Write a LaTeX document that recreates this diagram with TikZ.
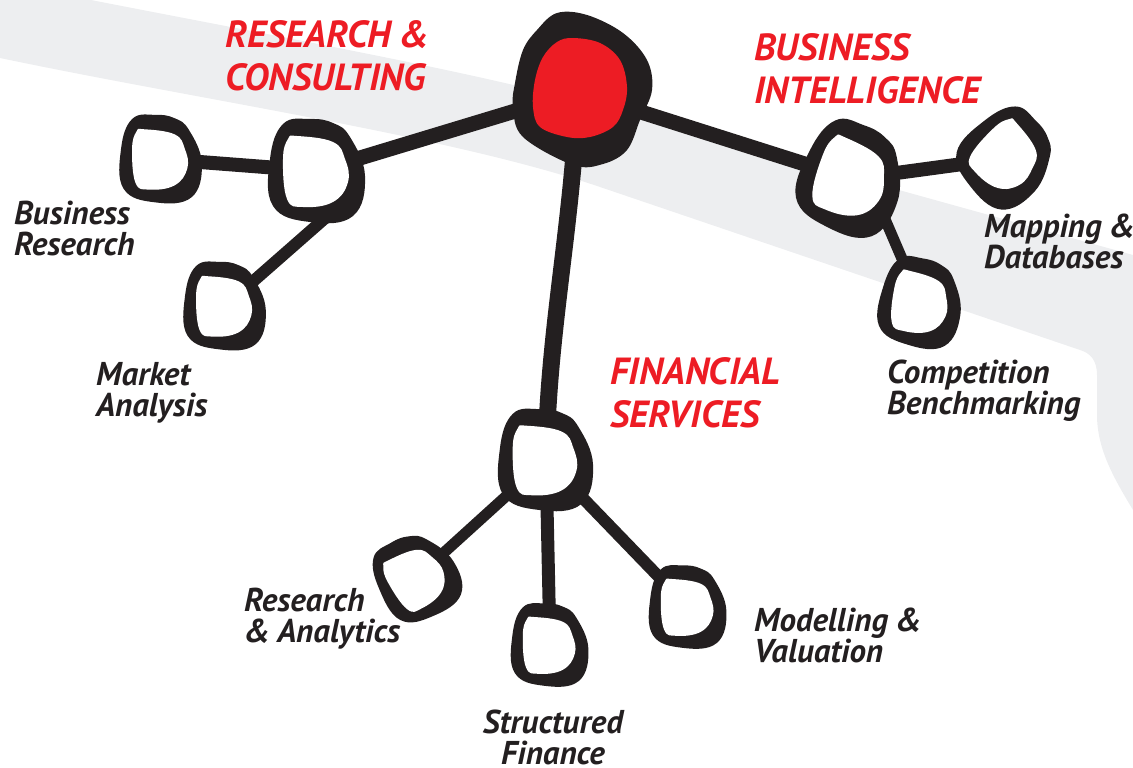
\documentclass[tikz,border=0pt]{standalone}
\usepackage{fontspec}
\setmainfont{PT Sans}
\definecolor{ink}{HTML}{231F20}
\definecolor{hubred}{HTML}{ED1C24}
\definecolor{bandgray}{HTML}{EDEEF0}
\newcommand{\amp}{\hspace{0.22em}\&}
\tikzset{
  spot/.style={circle,inner sep=0pt,minimum size=#1},
  conn/.style={draw=ink,line cap=butt},
  headlabel/.style={anchor=base west,inner sep=0pt,align=left,text=hubred,
    font=\fontsize{37.8}{43}\selectfont\bfseries\itshape},
  sublabel/.style={anchor=base west,inner sep=0pt,align=left,text=ink,
    font=\fontsize{33}{31}\selectfont\bfseries\itshape},
  ring/.pic={
    \fill[ink] plot[smooth cycle,tension=0.7] coordinates
      {(-7,-52) (16,-48) (33,-34) (48,5) (36,45) (-7,51) (-44,35) (-47,-12) (-34,-47)};
    \fill[white] plot[smooth cycle,tension=0.7] coordinates
      {(-20,-35) (16,-29) (28,-12) (31,11) (16,31) (-14,36) (-30,28) (-34,-12) (-29,-32)};
  },
  hubshape/.pic={
    \fill[ink] plot[smooth cycle,tension=0.6] coordinates
      {(-41,-62) (-21,-79) (9,-77) (45,-59) (69,-32) (74,-2) (62,28) (49,58) (25,72) (-5,73) (-55,45) (-65,15) (-63,-9) (-55,-42)};
    \fill[hubred] plot[smooth cycle,tension=0.6] coordinates
      {(-5,-54) (22,-49) (42,-32) (49,-5) (45,18) (35,35) (12,45) (-11,45) (-38,35) (-45,15) (-43,-12) (-35,-35) (-21,-50)};
  },
}
\begin{document}
\begin{tikzpicture}[x=1pt,y=-1pt]
\useasboundingbox (0,0) rectangle (1133,768);
% background band
\fill[bandgray] (0,0) -- (91,0) .. controls (291,39) and (480,73) .. (600,107)
  -- (1133,255) -- (1133,510) .. controls (1115,480) and (1097,450) .. (1097,415)
  -- (1097,375) .. controls (1097,360) and (1090,353) .. (1080,350)
  -- (600,187) .. controls (450,136) and (200,100) .. (0,58) -- cycle;
% anchor nodes
\node[spot=150pt] (hub) at (578,92) {};
\node[spot=95pt] (rc) at (317,171) {};
\node[spot=80pt] (br) at (161,159) {};
\node[spot=80pt] (ma) at (225,306) {};
\node[spot=100pt] (bi) at (852,179) {};
\node[spot=85pt] (map) at (1007,158) {};
\node[spot=85pt] (comp) at (921,303) {};
\node[spot=95pt] (fs) at (546,460) {};
\node[spot=80pt] (ra) at (417,577) {};
\node[spot=80pt] (sf) at (550,645) {};
\node[spot=80pt] (mv) at (688,607) {};
% connectors
\draw[conn,line width=15pt] (hub.center) -- (rc.center);
\draw[conn,line width=14pt] (rc.center) -- (br.center);
\draw[conn,line width=12pt] (rc.-80) -- (ma.center);
\draw[conn,line width=15pt] (hub.center) -- (bi.center);
\draw[conn,line width=14pt] (bi.center) -- (map.center);
\draw[conn,line width=11pt] (bi.-50) -- (comp.center);
\draw[conn,line width=17pt] (hub.center) .. controls (572,230) and (548,330) .. (fs.center);
\draw[conn,line width=11pt] (fs.center) -- (ra.center);
\draw[conn,line width=13pt] (fs.center) -- (sf.center);
\draw[conn,line width=12pt] (fs.center) -- (mv.center);
% rings
\pic[scale=1] at (rc) {ring};
\pic[scale=0.85] at (br) {ring};
\pic[scale=0.85] at (ma) {ring};
\pic[scale=1.05,rotate=-20] at (bi) {ring};
\pic[scale=0.9,rotate=-45] at (map) {ring};
\pic[scale=0.85,rotate=-10] at (comp) {ring};
\pic[scale=0.98] at (fs) {ring};
\pic[scale=0.82,rotate=30] at (ra) {ring};
\pic[scale=0.8] at (sf) {ring};
\pic[scale=0.8] at (mv) {ring};
\pic at (hub) {hubshape};
% labels (base anchor = baseline of the last line)
\node[headlabel] (lrc) at (225,90) {RESEARCH\amp\\CONSULTING};
\node[headlabel] (lbi) at (754,103) {BUSINESS\\INTELLIGENCE};
\node[headlabel] (lfs) at (610,427) {FINANCIAL\\SERVICES};
\node[sublabel] (lbr) at (14,255) {Business\\Research};
\node[sublabel] (lma) at (96,416) {Market\\Analysis};
\node[sublabel] (lmap) at (984,268) {Mapping\amp\\Databases};
\node[sublabel] (lcomp) at (887,414) {Competition\\Benchmarking};
\node[sublabel] (lra) at (244,642) {Research\\\&\hspace{0.22em}Analytics};
\node[sublabel] (lmv) at (754,662) {Modelling\amp\\Valuation};
\node[sublabel,anchor=base,align=center] (lsf) at (553,764) {Structured\\Finance};
\end{tikzpicture}
\end{document}
